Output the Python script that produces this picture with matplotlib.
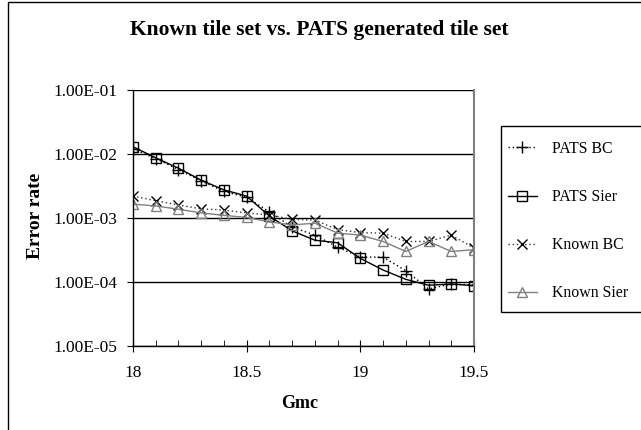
import numpy as np
import matplotlib
matplotlib.use("Agg")
import matplotlib.pyplot as plt
from matplotlib.ticker import FixedLocator, FuncFormatter, MultipleLocator, NullLocator
from matplotlib.patches import Rectangle

plt.rcParams['font.family'] = ['Liberation Serif', 'DejaVu Serif']

# Gmc values (x axis)
gmc = [18.0, 18.1, 18.2, 18.3, 18.4, 18.5, 18.6, 18.7,
       18.8, 18.9, 19.0, 19.1, 19.2, 19.3, 19.4, 19.5]

# error rates
pats_bc = [0.012, 0.0085, 0.0057, 0.0038, 0.0026, 0.0021, 0.00125, 0.00072,
           0.00054, 0.00035, 0.000245, 0.000245, 0.00015, 0.000078, 0.000093, 0.00009]
pats_sier = [0.013, 0.0087, 0.006, 0.0039, 0.00275, 0.0022, 0.00107, 0.00063,
             0.00045, 0.00041, 0.000234, 0.000154, 0.00011, 0.000089, 0.000093, 0.0000875]
known_bc = [0.0022, 0.00186, 0.0016, 0.00139, 0.00133, 0.0012, 0.00112, 0.00095,
            0.00093, 0.00066, 0.00059, 0.00058, 0.00043, 0.00043, 0.00054, 0.00034]
known_sier = [0.00165, 0.00154, 0.00137, 0.0012, 0.0011, 0.00102, 0.00087, 0.00078,
              0.00083, 0.00058, 0.00054, 0.00043, 0.0003, 0.00043, 0.0003, 0.00032]

W, H = 641, 430
fig = plt.figure(figsize=(W / 100, H / 100), dpi=100)
ax = fig.add_axes([133 / W, 1 - 346 / H, (474 - 133) / W, (346 - 90) / H])

dot = (0, (1, 2))
ax.plot(gmc, pats_bc, color='black', lw=1, ls=dot, marker='+', ms=8, mew=1,
        label='PATS BC')
ax.plot(gmc, pats_sier, color='black', lw=1, ls='-', marker='s', ms=7, mew=1,
        mfc='none', label='PATS Sier')
ax.plot(gmc, known_bc, color='#333333', lw=1, ls=dot, marker='x', ms=7, mew=1,
        mec='black', label='Known BC')
ax.plot(gmc, known_sier, color='#808080', lw=1, ls='-', marker='^', ms=7, mew=1,
        mfc='none', label='Known Sier')

ax.set_yscale('log')
ax.set_xlim(18, 19.5)
ax.set_ylim(1e-5, 1e-1)

ax.yaxis.set_major_locator(FixedLocator([1e-5, 1e-4, 1e-3, 1e-2, 1e-1]))
ax.yaxis.set_minor_locator(NullLocator())
ax.yaxis.set_major_formatter(FuncFormatter(lambda v, p: '%.2E' % v))
ax.xaxis.set_major_locator(MultipleLocator(0.5))
ax.xaxis.set_minor_locator(MultipleLocator(0.1))
ax.xaxis.set_major_formatter(FuncFormatter(lambda v, p: '%g' % v))

ax.grid(axis='y', which='major', color='black', lw=1)
ax.set_axisbelow(True)

ax.spines['top'].set_visible(False)
ax.spines['right'].set_color('#808080')
ax.spines['right'].set_linewidth(1.5)
ax.spines['left'].set_linewidth(1)
ax.spines['bottom'].set_linewidth(1)

ax.tick_params(axis='y', which='major', direction='out', length=4, labelsize=12.5, pad=7)
ax.tick_params(axis='x', which='major', direction='inout', length=9, labelsize=12.5, pad=9)
ax.tick_params(axis='x', which='minor', direction='in', length=4)

fig.text(319 / W, 1 - 30 / H, 'Known tile set vs. PATS generated tile set',
         ha='center', va='center', fontsize=15.5, fontweight='bold')
fig.text(300 / W, 1 - 404 / H, 'Gmc', ha='center', va='center',
         fontsize=13, fontweight='bold')
fig.text(35 / W, 1 - 216 / H, 'Error rate', ha='center', va='center',
         rotation=90, fontsize=14, fontweight='bold')

leg = ax.legend(loc='upper left', bbox_to_anchor=(508 / W, 1 - 141 / H),
                bbox_transform=fig.transFigure, borderaxespad=0, fontsize=11.4,
                frameon=False, handlelength=1.8, handletextpad=1.0,
                labelspacing=2.03, borderpad=0)

# legend frame (runs off the right edge like the original)
fig.add_artist(Rectangle((501 / W, 1 - 312 / H), 0.3, (312 - 126) / H,
                         transform=fig.transFigure, fill=False,
                         edgecolor='black', lw=1))

# outer chart border (right and bottom edges fall outside the image)
fig.add_artist(Rectangle((8 / W, -0.1), 1.2, 1 - 2 / H + 0.1,
                         transform=fig.transFigure, fill=False,
                         edgecolor='black', lw=1))

fig.savefig('out.png', dpi=100)
